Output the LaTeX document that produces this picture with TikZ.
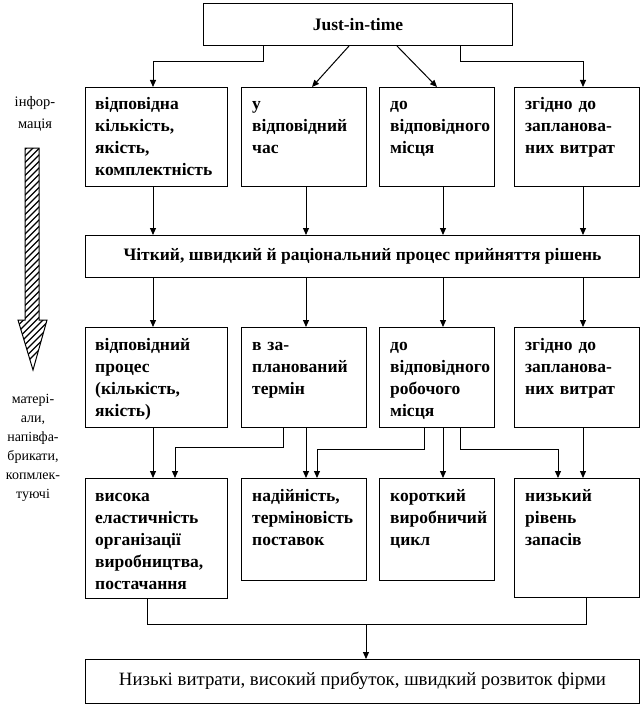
\documentclass[tikz,border=0pt]{standalone}
\usepackage{fontspec}
\setmainfont{Liberation Serif}
\usetikzlibrary{arrows.meta}
\begin{document}
\begin{tikzpicture}[x=1pt,y=-1pt,
  box/.style={draw, line width=1pt, anchor=north west, inner sep=0pt},
  txt/.style={anchor=north west, inner sep=0pt, text width=200pt, align=left,
    font=\fontsize{17.5}{22}\selectfont\bfseries},
  ctxt/.style={inner sep=0pt, font=\fontsize{17.5}{22}\selectfont},
  lbl/.style={inner sep=0pt, align=center},
  arr/.style={line width=1pt, -{Triangle[length=7pt,width=6pt]}},
  ln/.style={line width=1pt}]
\useasboundingbox (0,0) rectangle (643,706);
% column coordinates
\coordinate (cA) at (153,0);
\coordinate (cB) at (306,0);
\coordinate (cC) at (443,0);
\coordinate (cD) at (583,0);
% top
\node[box, minimum width=309pt, minimum height=42pt] (top) at (203,3) {};
\node[ctxt, font=\fontsize{17.5}{22}\selectfont\bfseries] (toptxt) at (top.center) {Just-in-time};
% row 1
\node[box, minimum width=142pt, minimum height=99pt] (b1) at (85,87) {};
\node[box, minimum width=125pt, minimum height=99pt] (b2) at (241,87) {};
\node[box, minimum width=115pt, minimum height=99pt] (b3) at (379,87) {};
\node[box, minimum width=125pt, minimum height=99pt] (b4) at (514,87) {};
\node[txt] (b1t) at ([shift={(10pt,-6.6pt)}]b1.north west) {\strut відповідна\\кількість,\\якість,\\комплектність};
\node[txt] (b2t) at ([shift={(11pt,-6.6pt)}]b2.north west) {\strut у\\відповідний\\час};
\node[txt] (b3t) at ([shift={(11pt,-6.6pt)}]b3.north west) {\strut до\\відповідного\\місця};
\node[txt] (b4t) at ([shift={(11pt,-6.6pt)}]b4.north west) {\strut згідно до\\запланова-\\них витрат};
% row 2
\node[box, minimum width=554pt, minimum height=42pt] (r2) at (85,235) {};
\node[ctxt, font=\fontsize{17.5}{22}\selectfont\bfseries] (r2t) at (r2.center) {Чіткий, швидкий й раціональний процес прийняття рішень};
% row 3
\node[box, minimum width=142pt, minimum height=100pt] (d1) at (85,327) {};
\node[box, minimum width=125pt, minimum height=100pt] (d2) at (241,327) {};
\node[box, minimum width=115pt, minimum height=100pt] (d3) at (379,327) {};
\node[box, minimum width=125pt, minimum height=100pt] (d4) at (514,327) {};
\node[txt] (d1t) at ([shift={(10pt,-7.6pt)}]d1.north west) {\strut відповідний\\процес\\(кількість,\\якість)};
\node[txt] (d2t) at ([shift={(11pt,-7.6pt)}]d2.north west) {\strut в за-\\планований\\термін};
\node[txt] (d3t) at ([shift={(11pt,-7.6pt)}]d3.north west) {\strut до\\відповідного\\робочого\\місця};
\node[txt] (d4t) at ([shift={(11pt,-7.6pt)}]d4.north west) {\strut згідно до\\запланова-\\них витрат};
% row 4
\node[box, minimum width=142pt, minimum height=120pt] (e1) at (85,478) {};
\node[box, minimum width=125pt, minimum height=102pt] (e2) at (241,478) {};
\node[box, minimum width=115pt, minimum height=102pt] (e3) at (379,478) {};
\node[box, minimum width=125pt, minimum height=119pt] (e4) at (514,478) {};
\node[txt] (e1t) at ([shift={(10pt,-7.6pt)}]e1.north west) {\strut висока\\еластичність\\організації\\виробництва,\\постачання};
\node[txt] (e2t) at ([shift={(11pt,-7.6pt)}]e2.north west) {\strut надійність,\\терміновість\\поставок};
\node[txt] (e3t) at ([shift={(11pt,-7.6pt)}]e3.north west) {\strut короткий\\виробничий\\цикл};
\node[txt] (e4t) at ([shift={(11pt,-7.6pt)}]e4.north west) {\strut низький\\рівень\\запасів};
% final
\node[box, minimum width=554pt, minimum height=44pt] (f) at (85,659) {};
\node[ctxt, font=\fontsize{18.8}{22}\selectfont] (ft) at ([yshift=1pt]f.center) {Низькі витрати, високий прибуток, швидкий розвиток фірми};
% left labels
\node[lbl, font=\fontsize{14.5}{22}\selectfont] (info) at (35,114) {інфор-\\мація};
\node[lbl, font=\fontsize{14}{19}\selectfont] (mat) at (33,447.5) {матері-\\али,\\напівфа-\\брикати,\\копмлек-\\туючі};
% hatched arrow
\begin{scope}
\clip (25,148) -- (39,148) -- (39,320) -- (47,320) -- (33,370) -- (18,320) -- (25,320) -- cycle;
\foreach \k in {0,...,36} \draw[line width=1.4pt] (5,150+\k*6.5) -- ++(50,-50);
\end{scope}
\draw[line width=1pt] (25,148) -- (39,148) -- (39,320) -- (47,320) -- (33,370) -- (18,320) -- (25,320) -- cycle;
% top connectors
\coordinate (tl) at ([shift={(60pt,-15.5pt)}]top.south west);
\coordinate (tr) at ([shift={(257pt,-15.5pt)}]top.south west);
\draw[arr] ([xshift=60pt]top.south west) -- (tl) -- (tl -| cA) -- (b1.north -| cA);
\draw[arr] ([xshift=146pt]top.south west) -- ([xshift=71pt]b2.north west);
\draw[arr] ([xshift=194pt]top.south west) -- ([xshift=58pt]b3.north west);
\draw[arr] ([xshift=257pt]top.south west) -- (tr) -- (tr -| cD) -- (b4.north -| cD);
% row1 -> row2
\draw[arr] (b1.south -| cA) -- (r2.north -| cA);
\draw[arr] (b2.south -| cB) -- (r2.north -| cB);
\draw[arr] (b3.south -| cC) -- (r2.north -| cC);
\draw[arr] (b4.south -| cD) -- (r2.north -| cD);
% row2 -> row3
\draw[arr] (r2.south -| cA) -- (d1.north -| cA);
\draw[arr] (r2.south -| cB) -- (d2.north -| cB);
\draw[arr] (r2.south -| cC) -- (d3.north -| cC);
\draw[arr] (r2.south -| cD) -- (d4.north -| cD);
% row3 -> row4
\draw[arr] (d1.south -| cA) -- (e1.north -| cA);
\draw[arr] ([xshift=42pt]d2.south west) -- ++(0,19) -| ([xshift=90pt]e1.north west);
\draw[arr] (d2.south -| cB) -- (e2.north -| cB);
\draw[arr] ([xshift=45pt]d3.south west) -- ++(0,21) -| ([xshift=76pt]e2.north west);
\draw[arr] (d3.south -| cC) -- (e3.north -| cC);
\draw[arr] ([xshift=81pt]d3.south west) -- ++(0,21) -| ([xshift=44pt]e4.north west);
\draw[arr] (d4.south -| cD) -- (e4.north -| cD);
% bottom collector
\draw[ln] ([xshift=62pt]e1.south west) -- ++(0,25) coordinate (jl) -| ([xshift=72pt]e4.south west);
\coordinate (j) at ([xshift=219pt]jl);
\draw[arr] (j) -- (j |- f.north);
\end{tikzpicture}
\end{document}
